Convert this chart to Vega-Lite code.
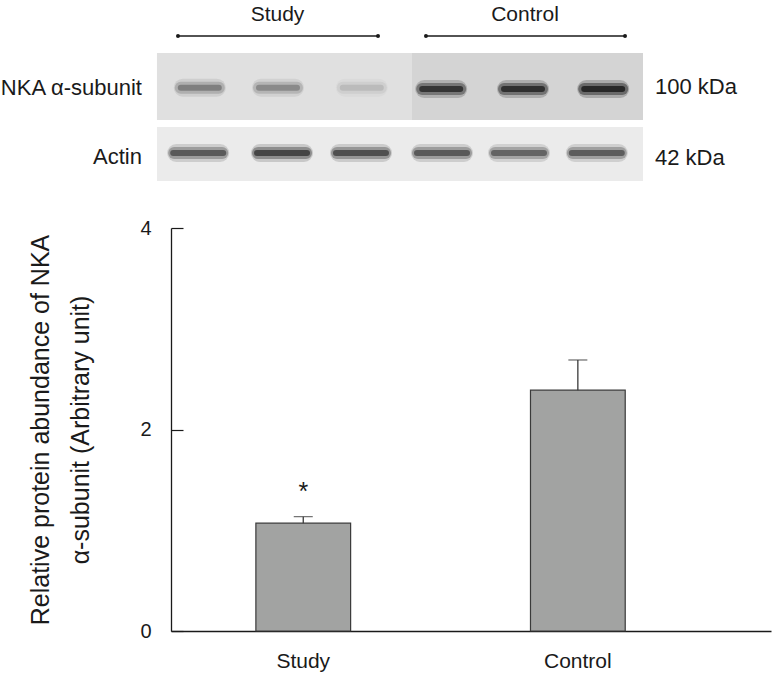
{
  "$schema": "https://vega.github.io/schema/vega-lite/v6.json",
  "autosize": "none",
  "width": 600,
  "height": 403,
  "padding": {"left": 171, "top": 228, "right": 3, "bottom": 47},
  "background": "white",
  "config": {
    "view": {"stroke": null},
    "font": "Liberation Sans",
    "text": {"font": "Liberation Sans", "color": "#1a1a1a"}
  },
  "datasets": {
    "bars": [
      {"group": "Study", "mean": 1.07, "upper": 1.135, "sig": "*"},
      {"group": "Control", "mean": 2.39, "upper": 2.69, "sig": ""}
    ],
    "boxes": [
      {"part": "nka-study", "x1": 0.476, "x2": 3.656, "y1": 0.4375, "y2": 1.484},
      {"part": "nka-control", "x1": 3.656, "x2": 6.536, "y1": 0.4375, "y2": 1.484},
      {"part": "actin", "x1": 0.476, "x2": 6.536, "y1": 1.594, "y2": 2.4375}
    ],
    "bands": [
      {"protein": "NKA", "lane": 1.01, "row": 0.98, "intensity": 0.38},
      {"protein": "NKA", "lane": 1.985, "row": 0.98, "intensity": 0.33},
      {"protein": "NKA", "lane": 3.03, "row": 0.98, "intensity": 0.13},
      {"protein": "NKA", "lane": 4.02, "row": 1.0, "intensity": 0.85},
      {"protein": "NKA", "lane": 5.04, "row": 1.0, "intensity": 0.9},
      {"protein": "NKA", "lane": 6.04, "row": 1.0, "intensity": 1.0},
      {"protein": "Actin", "lane": 0.99, "row": 2.0, "intensity": 0.62},
      {"protein": "Actin", "lane": 2.035, "row": 2.0, "intensity": 0.75},
      {"protein": "Actin", "lane": 3.02, "row": 2.0, "intensity": 0.68},
      {"protein": "Actin", "lane": 4.03, "row": 2.0, "intensity": 0.62},
      {"protein": "Actin", "lane": 4.99, "row": 2.0, "intensity": 0.55},
      {"protein": "Actin", "lane": 5.96, "row": 2.0, "intensity": 0.6}
    ],
    "brackets": [
      {"group": "Study", "start": 0.738, "end": 3.232, "row": 0.172},
      {"group": "Control", "start": 3.83, "end": 6.312, "row": 0.172}
    ],
    "labels": [
      {"kind": "header", "label": "Study", "lane": 1.979, "row": -0.067},
      {"kind": "header", "label": "Control", "lane": 5.065, "row": -0.067},
      {"kind": "left", "label": "NKA α-subunit", "lane": 0.289, "row": 0.977},
      {"kind": "left", "label": "Actin", "lane": 0.289, "row": 2.058},
      {"kind": "right", "label": "100 kDa", "lane": 6.686, "row": 0.964},
      {"kind": "right", "label": "42 kDa", "lane": 6.686, "row": 2.08}
    ]
  },
  "layer": [
    {
      "data": {"name": "bars"},
      "encoding": {
        "x": {
          "field": "group",
          "type": "nominal",
          "sort": ["Study", "Control"],
          "scale": {"paddingInner": 0.655, "paddingOuter": 0.42, "align": 0.368},
          "axis": {
            "title": null,
            "labelAngle": 0,
            "ticks": false,
            "labelFontSize": 21,
            "labelFont": "Liberation Sans",
            "labelPadding": 19,
            "labelColor": "#1a1a1a",
            "domainColor": "#1a1a1a",
            "domainWidth": 1.3
          }
        }
      },
      "layer": [
        {
          "mark": {"type": "bar", "fill": "#a2a3a2", "stroke": "#3a3a3a", "strokeWidth": 1.2},
          "encoding": {
            "y": {
              "field": "mean",
              "type": "quantitative",
              "title": ["Relative protein abundance of NKA", "α-subunit (Arbitrary unit)"],
              "scale": {"domain": [0, 4], "nice": false},
              "axis": {
                "values": [0, 2, 4],
                "format": "d",
                "grid": false,
                "tickSize": -12,
                "labelPadding": 32,
                "labelFontSize": 20,
                "labelFont": "Liberation Sans",
                "labelColor": "#1a1a1a",
                "domainColor": "#1a1a1a",
                "domainWidth": 1.3,
                "tickColor": "#1a1a1a",
                "tickWidth": 1.2,
                "titleFont": "Liberation Sans",
                "titleFontSize": 25,
                "titleFontWeight": "normal",
                "titleColor": "#1a1a1a",
                "titleLineHeight": 40,
                "titlePadding": 46
              }
            }
          }
        },
        {
          "mark": {"type": "rule", "color": "#3a3a3a", "strokeWidth": 1.3},
          "encoding": {
            "y": {"field": "mean", "type": "quantitative", "title": ["Relative protein abundance of NKA", "α-subunit (Arbitrary unit)"], "scale": {"domain": [0, 4], "nice": false}},
            "y2": {"field": "upper"}
          }
        },
        {
          "mark": {"type": "tick", "color": "#3a3a3a", "thickness": 1.3, "size": 19},
          "encoding": {
            "y": {"field": "upper", "type": "quantitative", "title": ["Relative protein abundance of NKA", "α-subunit (Arbitrary unit)"], "scale": {"domain": [0, 4], "nice": false}}
          }
        },
        {
          "mark": {"type": "text", "fontSize": 25, "dy": -17, "baseline": "alphabetic", "align": "center"},
          "encoding": {
            "y": {"field": "upper", "type": "quantitative", "title": ["Relative protein abundance of NKA", "α-subunit (Arbitrary unit)"], "scale": {"domain": [0, 4], "nice": false}},
            "text": {"field": "sig"}
          }
        }
      ]
    },
    {
      "layer": [
        {
          "data": {"name": "boxes"},
          "mark": {"type": "rect"},
          "encoding": {
            "x": {"field": "x1", "type": "quantitative", "scale": {"domain": [0.651, 8.132], "nice": false, "zero": false}, "axis": null},
            "x2": {"field": "x2"},
            "y": {"field": "y1", "type": "quantitative", "scale": {"domain": [3.172, 9.469], "reverse": true, "nice": false, "zero": false}, "axis": null},
            "y2": {"field": "y2"},
            "fill": {"field": "part", "type": "nominal", "scale": {"domain": ["nka-study", "nka-control", "actin"], "range": ["#e0e0e0", "#d4d4d4", "#ebebeb"]}, "legend": null}
          }
        },
        {
          "data": {"name": "bands"},
          "transform": [{"filter": "datum.protein === 'NKA'"}],
          "mark": {"type": "rule", "strokeCap": "round", "strokeWidth": 18, "xOffset": -17, "x2Offset": 17, "color": "#1c1c1c", "opacity": 0.5},
          "encoding": {
            "x": {"field": "lane", "type": "quantitative", "scale": {"domain": [0.651, 8.132], "nice": false, "zero": false}, "axis": null},
            "x2": {"field": "lane"},
            "y": {"field": "row", "type": "quantitative", "scale": {"domain": [3.172, 9.469], "reverse": true, "nice": false, "zero": false}, "axis": null},
            "strokeOpacity": {"field": "intensity", "type": "quantitative", "scale": {"domain": [0, 1], "range": [0, 0.45]}, "legend": null}
          }
        },
        {
          "data": {"name": "bands"},
          "transform": [{"filter": "datum.protein === 'NKA'"}],
          "mark": {"type": "rule", "strokeCap": "round", "strokeWidth": 12, "xOffset": -19, "x2Offset": 19, "color": "#1c1c1c"},
          "encoding": {
            "x": {"field": "lane", "type": "quantitative", "scale": {"domain": [0.651, 8.132], "nice": false, "zero": false}, "axis": null},
            "x2": {"field": "lane"},
            "y": {"field": "row", "type": "quantitative", "scale": {"domain": [3.172, 9.469], "reverse": true, "nice": false, "zero": false}, "axis": null},
            "strokeOpacity": {"field": "intensity", "type": "quantitative", "scale": {"domain": [0, 1], "range": [0, 0.45]}, "legend": null}
          }
        },
        {
          "data": {"name": "bands"},
          "transform": [{"filter": "datum.protein === 'NKA'"}],
          "mark": {"type": "rule", "strokeCap": "round", "strokeWidth": 6, "xOffset": -19, "x2Offset": 19, "color": "#1c1c1c"},
          "encoding": {
            "x": {"field": "lane", "type": "quantitative", "scale": {"domain": [0.651, 8.132], "nice": false, "zero": false}, "axis": null},
            "x2": {"field": "lane"},
            "y": {"field": "row", "type": "quantitative", "scale": {"domain": [3.172, 9.469], "reverse": true, "nice": false, "zero": false}, "axis": null},
            "opacity": {"field": "intensity", "type": "quantitative", "scale": {"domain": [0, 1], "range": [0, 0.85]}, "legend": null}
          }
        },
        {
          "data": {"name": "bands"},
          "transform": [{"filter": "datum.protein === 'Actin'"}],
          "mark": {"type": "rule", "strokeCap": "round", "strokeWidth": 18, "xOffset": -22, "x2Offset": 22, "color": "#1c1c1c", "opacity": 0.5},
          "encoding": {
            "x": {"field": "lane", "type": "quantitative", "scale": {"domain": [0.651, 8.132], "nice": false, "zero": false}, "axis": null},
            "x2": {"field": "lane"},
            "y": {"field": "row", "type": "quantitative", "scale": {"domain": [3.172, 9.469], "reverse": true, "nice": false, "zero": false}, "axis": null},
            "strokeOpacity": {"field": "intensity", "type": "quantitative", "scale": {"domain": [0, 1], "range": [0, 0.45]}, "legend": null}
          }
        },
        {
          "data": {"name": "bands"},
          "transform": [{"filter": "datum.protein === 'Actin'"}],
          "mark": {"type": "rule", "strokeCap": "round", "strokeWidth": 12, "xOffset": -24, "x2Offset": 24, "color": "#1c1c1c"},
          "encoding": {
            "x": {"field": "lane", "type": "quantitative", "scale": {"domain": [0.651, 8.132], "nice": false, "zero": false}, "axis": null},
            "x2": {"field": "lane"},
            "y": {"field": "row", "type": "quantitative", "scale": {"domain": [3.172, 9.469], "reverse": true, "nice": false, "zero": false}, "axis": null},
            "strokeOpacity": {"field": "intensity", "type": "quantitative", "scale": {"domain": [0, 1], "range": [0, 0.45]}, "legend": null}
          }
        },
        {
          "data": {"name": "bands"},
          "transform": [{"filter": "datum.protein === 'Actin'"}],
          "mark": {"type": "rule", "strokeCap": "round", "strokeWidth": 6, "xOffset": -25, "x2Offset": 25, "color": "#1c1c1c"},
          "encoding": {
            "x": {"field": "lane", "type": "quantitative", "scale": {"domain": [0.651, 8.132], "nice": false, "zero": false}, "axis": null},
            "x2": {"field": "lane"},
            "y": {"field": "row", "type": "quantitative", "scale": {"domain": [3.172, 9.469], "reverse": true, "nice": false, "zero": false}, "axis": null},
            "opacity": {"field": "intensity", "type": "quantitative", "scale": {"domain": [0, 1], "range": [0, 0.85]}, "legend": null}
          }
        },
        {
          "data": {"name": "brackets"},
          "mark": {"type": "rule", "color": "#1a1a1a", "strokeWidth": 1.3},
          "encoding": {
            "x": {"field": "start", "type": "quantitative", "scale": {"domain": [0.651, 8.132], "nice": false, "zero": false}, "axis": null},
            "x2": {"field": "end"},
            "y": {"field": "row", "type": "quantitative", "scale": {"domain": [3.172, 9.469], "reverse": true, "nice": false, "zero": false}, "axis": null}
          }
        },
        {
          "data": {"name": "brackets"},
          "transform": [{"fold": ["start", "end"], "as": ["endpoint", "pos"]}],
          "mark": {"type": "point", "filled": true, "size": 16, "color": "#1a1a1a", "opacity": 1},
          "encoding": {
            "x": {"field": "pos", "type": "quantitative", "scale": {"domain": [0.651, 8.132], "nice": false, "zero": false}, "axis": null},
            "y": {"field": "row", "type": "quantitative", "scale": {"domain": [3.172, 9.469], "reverse": true, "nice": false, "zero": false}, "axis": null}
          }
        },
        {
          "data": {"name": "labels"},
          "transform": [{"filter": "datum.kind === 'header'"}],
          "mark": {"type": "text", "fontSize": 21, "align": "center", "baseline": "alphabetic"},
          "encoding": {
            "x": {"field": "lane", "type": "quantitative", "scale": {"domain": [0.651, 8.132], "nice": false, "zero": false}, "axis": null},
            "y": {"field": "row", "type": "quantitative", "scale": {"domain": [3.172, 9.469], "reverse": true, "nice": false, "zero": false}, "axis": null},
            "text": {"field": "label"}
          }
        },
        {
          "data": {"name": "labels"},
          "transform": [{"filter": "datum.kind === 'left'"}],
          "mark": {"type": "text", "fontSize": 22, "align": "right", "baseline": "middle"},
          "encoding": {
            "x": {"field": "lane", "type": "quantitative", "scale": {"domain": [0.651, 8.132], "nice": false, "zero": false}, "axis": null},
            "y": {"field": "row", "type": "quantitative", "scale": {"domain": [3.172, 9.469], "reverse": true, "nice": false, "zero": false}, "axis": null},
            "text": {"field": "label"}
          }
        },
        {
          "data": {"name": "labels"},
          "transform": [{"filter": "datum.kind === 'right'"}],
          "mark": {"type": "text", "fontSize": 22, "align": "left", "baseline": "middle"},
          "encoding": {
            "x": {"field": "lane", "type": "quantitative", "scale": {"domain": [0.651, 8.132], "nice": false, "zero": false}, "axis": null},
            "y": {"field": "row", "type": "quantitative", "scale": {"domain": [3.172, 9.469], "reverse": true, "nice": false, "zero": false}, "axis": null},
            "text": {"field": "label"}
          }
        }
      ]
    }
  ],
  "resolve": {"scale": {"x": "independent", "y": "independent"}}
}
